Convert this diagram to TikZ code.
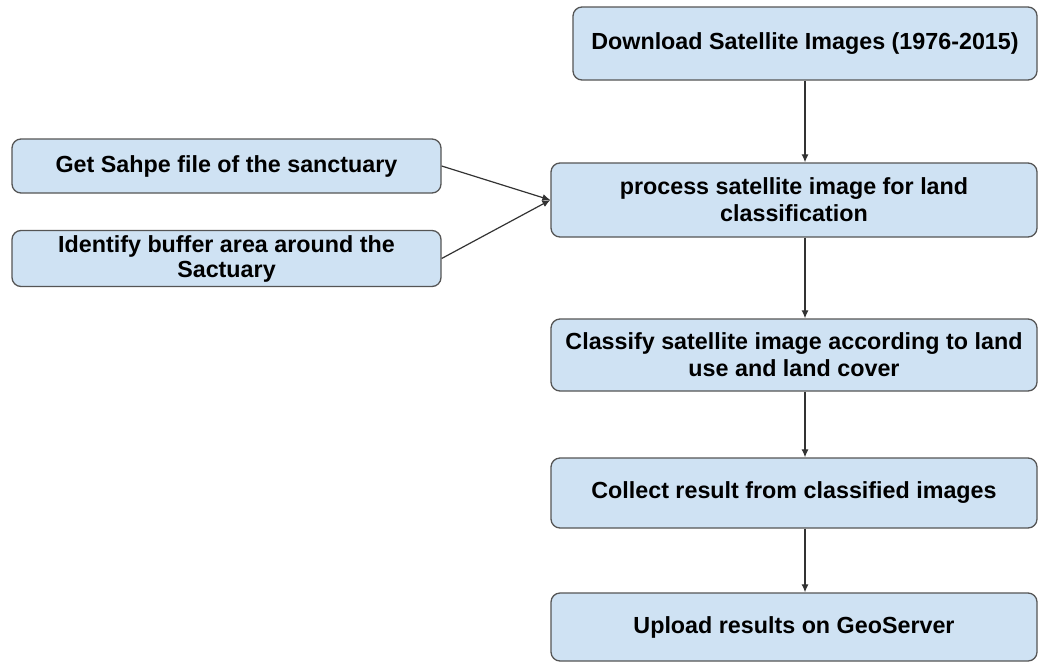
\documentclass[tikz,border=0pt]{standalone}
\usepackage{fontspec}
\setmainfont{Liberation Sans}
\usetikzlibrary{arrows.meta}
\definecolor{boxfill}{HTML}{CFE2F3}
\definecolor{boxline}{HTML}{555555}
\definecolor{wire}{HTML}{333333}
\tikzset{
  stepbox/.style={draw=boxline, fill=boxfill, line width=1.3pt, rounded corners=9pt,
    align=center, inner sep=0pt, text=black,
    font=\fontsize{23.3}{27}\selectfont\bfseries},
  arr/.style={draw=wire, line width=1.2pt, -{Latex[length=8pt,width=7pt]}}
}
\begin{document}
\begin{tikzpicture}[x=1pt, y=-1pt]
  \useasboundingbox (0,0) rectangle (1048,664);
  % main chain
  \node[stepbox, minimum width=464pt, minimum height=73pt] (dl) at (805,43.5)
    {Download Satellite Images (1976-2015)};
  \node[stepbox, minimum width=486pt, minimum height=74pt] (proc) at (794,200)
    {process satellite image for land\\classification};
  \node[stepbox, minimum width=486pt, minimum height=72pt] (cls) at (794,355)
    {Classify satellite image according to land\\use and land cover};
  \node[stepbox, minimum width=486pt, minimum height=70pt] (col) at (794,493)
    {Collect result from classified images};
  \node[stepbox, minimum width=486pt, minimum height=68pt] (up) at (794,627)
    {Upload results on GeoServer};
  % side inputs
  \node[stepbox, minimum width=429pt, minimum height=54pt] (shp) at (226.5,166)
    {Get Sahpe file of the sanctuary};
  \node[stepbox, minimum width=429pt, minimum height=56pt] (buf) at (226.5,258.5)
    {Identify buffer area around the\\[-2pt]Sactuary};
  % connectors
  \draw[arr] (dl.south) -- (dl.south |- proc.north);
  \draw[arr] (proc.south -| dl.south) -- (cls.north -| dl.south);
  \draw[arr] (cls.south -| dl.south) -- (col.north -| dl.south);
  \draw[arr] (col.south -| dl.south) -- (up.north -| dl.south);
  \draw[arr] (shp.east) -- (proc.west);
  \draw[arr] (buf.east) -- (proc.west);
\end{tikzpicture}
\end{document}
